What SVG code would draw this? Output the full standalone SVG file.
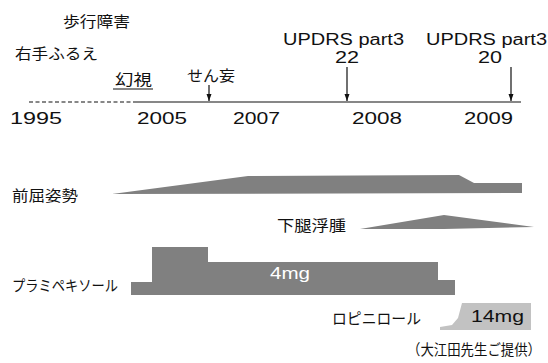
<svg xmlns="http://www.w3.org/2000/svg" width="548" height="363" viewBox="0 0 548 363">
<defs>
<style>
.jp{font-family:"Noto Sans CJK JP","Noto Sans",sans-serif;font-size:15px;fill:#111}
.lat{font-family:"Liberation Sans","DejaVu Sans",sans-serif;font-size:16px;fill:#111}
.ln{stroke:#111;stroke-width:1.2;fill:none}
.dark{fill:#808080}
.light{fill:#c2c2c2}
</style>
<marker id="ah" markerWidth="7" markerHeight="6" refX="7" refY="3" orient="auto" markerUnits="userSpaceOnUse">
<path d="M0,0.5 L7,3 L0,5.5 Z" fill="#111"/>
</marker>
</defs>
<rect width="548" height="363" fill="#fff"/>
<g id="labels">
<text class="jp" x="63" y="27" textLength="67" lengthAdjust="spacingAndGlyphs">歩行障害</text>
<text class="jp" x="15" y="59" textLength="83" lengthAdjust="spacingAndGlyphs">右手ふるえ</text>
</g>
<g id="genshi">
<text class="jp" x="115" y="85" textLength="37" lengthAdjust="spacingAndGlyphs">幻視</text>
<line class="ln" x1="113" y1="89" x2="153" y2="89"/>
</g>
<g id="senmou">
<text class="jp" x="187" y="81" textLength="48" lengthAdjust="spacingAndGlyphs">せん妄</text>
</g>
<g id="updrs1">
<text class="lat" x="283" y="45" textLength="121" lengthAdjust="spacingAndGlyphs">UPDRS part3</text>
<text class="lat" x="347" y="63" text-anchor="middle" textLength="24" lengthAdjust="spacingAndGlyphs">22</text>
</g>
<g id="updrs2">
<text class="lat" x="426" y="45" textLength="121" lengthAdjust="spacingAndGlyphs">UPDRS part3</text>
<text class="lat" x="490" y="63" text-anchor="middle" textLength="24" lengthAdjust="spacingAndGlyphs">20</text>
</g>
<g id="years">
<text class="lat" x="10" y="124" font-size="16.5" textLength="52" lengthAdjust="spacingAndGlyphs">1995</text>
<text class="lat" x="137" y="124" font-size="16.5" textLength="50" lengthAdjust="spacingAndGlyphs">2005</text>
<text class="lat" x="233" y="124" font-size="16.5" textLength="47" lengthAdjust="spacingAndGlyphs">2007</text>
<text class="lat" x="352" y="124" font-size="16.5" textLength="50" lengthAdjust="spacingAndGlyphs">2008</text>
<text class="lat" x="464" y="124" font-size="16.5" textLength="49" lengthAdjust="spacingAndGlyphs">2009</text>
</g>
<g id="connectors">
<line class="ln" x1="29" y1="102" x2="135" y2="102" stroke-dasharray="4,2.5"/>
<line class="ln" x1="135" y1="102" x2="521" y2="102"/>
<line class="ln" x1="209" y1="85" x2="209" y2="101" marker-end="url(#ah)"/>
<line class="ln" x1="347" y1="67" x2="347" y2="101" marker-end="url(#ah)"/>
<line class="ln" x1="511" y1="67" x2="511" y2="101" marker-end="url(#ah)"/>
</g>
<g id="zenkutsu">
<text class="jp" x="12" y="201" font-size="16" textLength="66" lengthAdjust="spacingAndGlyphs">前屈姿勢</text>
<polygon class="dark" points="112,194 248,176 459,175 474,183 522,183 522,193"/>
</g>
<g id="fushu">
<text class="jp" x="277" y="231" font-size="16" textLength="69" lengthAdjust="spacingAndGlyphs">下腿浮腫</text>
<polygon class="dark" points="360,229 444,215 534,227 444,229"/>
</g>
<g id="pramipexole">
<text class="jp" x="12" y="291" textLength="106" lengthAdjust="spacingAndGlyphs">プラミペキソール</text>
<polygon class="dark" points="131,295 131,282 152,282 152,247 208,247 208,262 438,262 438,280 455,280 455,295"/>
<text x="270" y="279" font-family="Liberation Sans,sans-serif" font-size="16" fill="#fff" textLength="40" lengthAdjust="spacingAndGlyphs">4mg</text>
</g>
<g id="ropinirole">
<text class="jp" x="332" y="324" font-size="16" textLength="89" lengthAdjust="spacingAndGlyphs">ロピニロール</text>
<polygon class="light" points="440,330 440,327 452,325 458,318 462,303 531,303 531,330"/>
<text class="lat" x="471" y="322" textLength="53" lengthAdjust="spacingAndGlyphs">14mg</text>
</g>
<g id="credit">
<text class="jp" x="407" y="355" font-size="13.5" textLength="134" lengthAdjust="spacingAndGlyphs">（大江田先生ご提供）</text>
</g>
</svg>
